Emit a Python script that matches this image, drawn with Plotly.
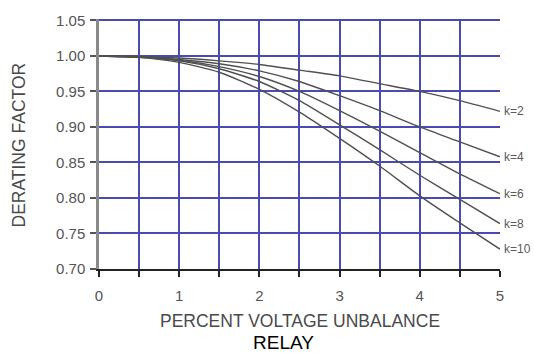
import plotly.graph_objects as go

x_vals = [0, 0.5, 1, 1.5, 2, 2.5, 3, 3.5, 4, 4.5, 5]
k2 = [1.000, 0.999, 0.997, 0.993, 0.988, 0.980, 0.972, 0.961, 0.950, 0.937, 0.922]
k4 = [1.000, 0.999, 0.995, 0.989, 0.979, 0.964, 0.944, 0.923, 0.900, 0.879, 0.858]
k6 = [1.000, 0.999, 0.994, 0.985, 0.971, 0.950, 0.923, 0.894, 0.864, 0.834, 0.806]
k8 = [1.000, 0.998, 0.993, 0.982, 0.964, 0.937, 0.903, 0.868, 0.832, 0.798, 0.764]
k10 = [1.000, 0.998, 0.991, 0.977, 0.953, 0.921, 0.884, 0.845, 0.803, 0.765, 0.728]
series = [("k=2", k2), ("k=4", k4), ("k=6", k6), ("k=8", k8), ("k=10", k10)]

x_ticks = [0, 0.5, 1, 1.5, 2, 2.5, 3, 3.5, 4, 4.5, 5]
x_ticktext = ["0", "", "1", "", "2", "", "3", "", "4", "", "5"]
y_ticks = [0.70, 0.75, 0.80, 0.85, 0.90, 0.95, 1.00, 1.05]
y_ticktext = ["0.70", "0.75", "0.80", "0.85", "0.90", "0.95", "1.00", "1.05"]

FONT = "Liberation Sans, Arial, sans-serif"
GRID = "#4a4ab4"
CURVE = "#505050"

fig = go.Figure()
for name, ys in series:
    fig.add_trace(go.Scatter(x=x_vals, y=ys, mode="lines", name=name,
                             line=dict(color=CURVE, width=1.4, shape="spline", smoothing=0.6),
                             showlegend=False, hoverinfo="skip"))
    fig.add_annotation(x=x_vals[-1], y=ys[-1], xref="x", yref="y", text=name,
                       showarrow=False, xanchor="left", yanchor="middle", xshift=2,
                       font=dict(family=FONT, size=12, color="#5a5a5a"))

fig.add_annotation(x=0.501, y=0, xref="paper", yref="paper", text="PERCENT VOLTAGE UNBALANCE",
                   showarrow=False, xanchor="center", yanchor="middle", yshift=-52,
                   font=dict(family=FONT, size=17.5, color="#4a4a4a"))
fig.add_annotation(x=0.461, y=0, xref="paper", yref="paper", text="RELAY",
                   showarrow=False, xanchor="center", yanchor="middle", yshift=-73,
                   font=dict(family=FONT, size=19, color="#000000"))
fig.add_annotation(x=0, y=0.496, xref="paper", yref="paper", text="DERATING FACTOR",
                   showarrow=False, xanchor="center", yanchor="middle", xshift=-80.5, textangle=-90,
                   font=dict(family=FONT, size=17.5, color="#4a4a4a"))

fig.update_xaxes(range=[0, 5.001], tickvals=x_ticks, ticktext=x_ticktext,
                 showgrid=True, gridcolor=GRID, gridwidth=1.5,
                 showline=True, linecolor="#222222", linewidth=2,
                 ticks="outside", ticklen=6, tickwidth=1.5, tickcolor="#222222",
                 tickfont=dict(family=FONT, size=15, color="#555555"),
                 ticklabelstandoff=6, zeroline=False, fixedrange=True)
fig.update_yaxes(range=[0.70, 1.052], tickvals=y_ticks, ticktext=y_ticktext,
                 showgrid=True, gridcolor=GRID, gridwidth=1.5,
                 showline=True, linecolor="#8a8a8a", linewidth=2.5,
                 ticks="outside", ticklen=6, tickwidth=1.5, tickcolor="#555555",
                 tickfont=dict(family=FONT, size=15, color="#555555"),
                 ticklabelstandoff=2, zeroline=False, fixedrange=True)

fig.update_layout(width=534, height=354, margin=dict(l=99, r=34, t=13.5, b=85),
                  paper_bgcolor="white", plot_bgcolor="white")

fig.write_html("out.html")
